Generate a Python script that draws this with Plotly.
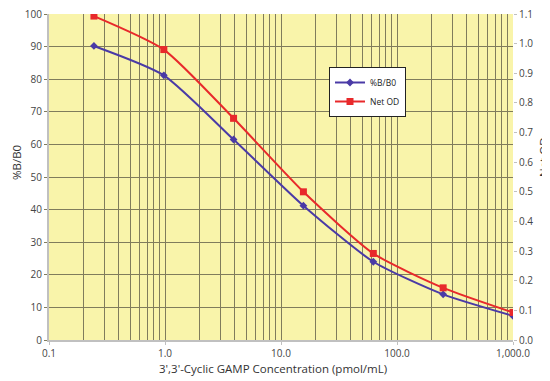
import plotly.graph_objects as go

conc = [0.244, 0.977, 3.9, 15.6, 62.5, 250, 1000]
bb0 = [90.2, 81.2, 61.5, 41.2, 24.0, 14.0, 7.4]
net_od = [1.093, 0.98, 0.748, 0.50, 0.292, 0.176, 0.093]

x_ticks = [0.1, 1, 10, 100, 1000]
x_tick_text = ["0.1", "1.0", "10.0", "100.0", "1,000.0"]
minor_vals = [m * d for d in [0.1, 1, 10, 100] for m in range(2, 10)]
y_ticks = list(range(0, 101, 10))
y2_ticks = [i / 10 for i in range(0, 12)]
y2_text = [f"{v:.1f}" for v in y2_ticks]

blue = "#4a3aa6"
red = "#e8292b"
grid = "#807c5c"
font = "Open Sans"

fig = go.Figure()
fig.add_trace(go.Scatter(x=conc, y=bb0, name="%B/B0", mode="lines+markers",
                         line=dict(color=blue, width=2, shape="spline", smoothing=0.6),
                         marker=dict(symbol="diamond", size=6, color=blue)))
fig.add_trace(go.Scatter(x=conc, y=net_od, name="Net OD", mode="lines+markers", yaxis="y2",
                         line=dict(color=red, width=2, shape="spline", smoothing=0.6),
                         marker=dict(symbol="square", size=7, color=red)))

# page body has an 8px default margin, so the figure is sized to fit inside it
W, H = 542, 373
L, R, T, B = 41, 37, 6, 41
pw, ph = W - L - R, H - T - B


def px(x):
    return (x - 8 - L) / pw


def py(y):
    return (H - B - (y - 8)) / ph


fig.update_layout(
    width=W, height=H,
    margin=dict(l=L, r=R, t=T, b=B, autoexpand=False),
    paper_bgcolor="white", plot_bgcolor="#f9f4aa",
    font=dict(family=font, size=10, color="#444"),
    xaxis=dict(type="log", range=[-1, 3], tickvals=x_ticks, ticktext=x_tick_text,
               showgrid=True, gridcolor=grid, gridwidth=1, automargin=False,
               minor=dict(tickvals=minor_vals, showgrid=True, gridcolor=grid, gridwidth=0.8, ticks=""),
               showline=True, linecolor="#c0c0c0", linewidth=2, ticks="outside", ticklen=3,
               tickcolor="#c0c0c0", tickfont=dict(size=10, color="#444"),
               ticklabeloverflow="allow", zeroline=False),
    yaxis=dict(range=[0, 100], tickvals=y_ticks, showgrid=True, gridcolor=grid, gridwidth=1,
               showline=True, linecolor="#c0c0c0", linewidth=2, ticks="outside", ticklen=3,
               tickcolor=grid, tickfont=dict(size=10, color="#444"), automargin=False,
               ticklabeloverflow="allow", zeroline=False),
    yaxis2=dict(range=[0, 1.1], tickvals=y2_ticks, ticktext=y2_text, overlaying="y", side="right",
                showgrid=False, showline=False, ticks="outside", ticklen=3, tickcolor="#c0c0c0",
                tickfont=dict(size=10, color="#444"), automargin=False,
                ticklabeloverflow="allow", zeroline=False),
    legend=dict(x=px(329), y=py(67), xanchor="left", yanchor="top", bgcolor="white",
                bordercolor="#222", borderwidth=1, font=dict(size=8.5, color="#222"),
                tracegroupgap=0, itemwidth=30),
    showlegend=True,
    annotations=[
        dict(text="3',3'-Cyclic GAMP Concentration (pmol/mL)", xref="paper", yref="paper",
             x=px(272.5), y=py(368), xanchor="center", yanchor="middle", showarrow=False,
             font=dict(size=11.5, color="#333")),
        dict(text="%B/B0", xref="paper", yref="paper", x=px(16), y=py(163), textangle=-90,
             xanchor="center", yanchor="middle", showarrow=False,
             font=dict(size=11.5, color="#333")),
        dict(text="Net OD", xref="paper", yref="paper", x=px(543), y=py(157), textangle=-90,
             xanchor="center", yanchor="middle", showarrow=False,
             font=dict(size=11.5, color="#333")),
    ],
)

fig.write_html("out.html")
